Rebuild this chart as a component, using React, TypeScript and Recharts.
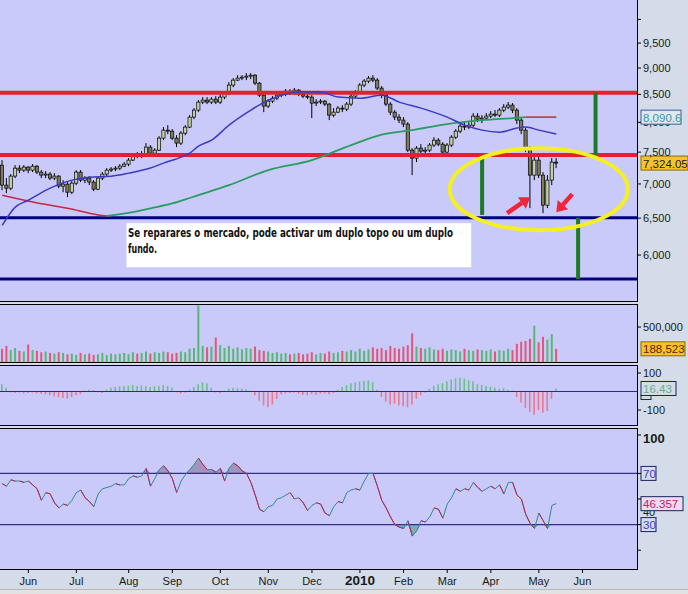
import React from 'react';
import { ComposedChart, Bar, Line, Area, XAxis, YAxis, ReferenceLine, ReferenceDot, ReferenceArea, Cell } from 'recharts';

// ---- price candles (2 trading days per slot) ----
const openP = [
  7291, 6982, 6936, 7120, 7244, 7213, 7260, 7213, 7275, 7182,
  7135, 7151, 7089, 7120, 6967, 6997, 6876, 7012, 7182, 7058,
  7089, 7028, 6921, 7089, 7151, 7213, 7229, 7244, 7275, 7307,
  7371, 7451, 7435, 7467, 7582, 7483, 7532, 7731, 7866, 7849,
  7731, 7648, 7815, 7918, 8091, 8215, 8359, 8395, 8359, 8413,
  8359, 8450, 8523, 8673, 8767, 8805, 8824, 8843, 8862, 8710,
  8486, 8287, 8377, 8431, 8486, 8505, 8560, 8523, 8579, 8505,
  8468, 8450, 8341, 8359, 8377, 8323, 8126, 8179, 8251, 8233,
  8323, 8468, 8542, 8673, 8748, 8805, 8767, 8617, 8486, 8323,
  8179, 8091, 8039, 7970, 7532, 7403, 7565, 7516, 7532, 7615,
  7697, 7631, 7500, 7615, 7747, 7849, 7935, 7918, 7952, 8109,
  8056, 8074, 8109, 8144, 8126, 8215, 8269, 8305, 8215, 8039,
  7866, 7565, 7135, 7371, 7135, 6685, 7058, 7339,
];
const closeP = [
  6982, 6936, 7120, 7244, 7213, 7260, 7213, 7275, 7182, 7135,
  7151, 7089, 7120, 6967, 6997, 6876, 7012, 7182, 7058, 7089,
  7028, 6921, 7089, 7151, 7213, 7229, 7244, 7275, 7307, 7371,
  7451, 7435, 7467, 7582, 7483, 7532, 7731, 7866, 7849, 7731,
  7648, 7815, 7918, 8091, 8215, 8359, 8395, 8359, 8413, 8359,
  8450, 8523, 8673, 8767, 8805, 8824, 8843, 8862, 8710, 8486,
  8287, 8377, 8431, 8486, 8505, 8560, 8523, 8579, 8505, 8468,
  8450, 8341, 8359, 8377, 8323, 8126, 8179, 8251, 8233, 8323,
  8468, 8542, 8673, 8748, 8805, 8767, 8617, 8486, 8323, 8179,
  8091, 8039, 7970, 7532, 7403, 7565, 7516, 7532, 7615, 7697,
  7631, 7500, 7615, 7747, 7849, 7935, 7918, 7952, 8109, 8056,
  8074, 8109, 8144, 8126, 8215, 8269, 8305, 8215, 8039, 7866,
  7565, 7135, 7371, 7135, 6685, 7058, 7339, 7324.05,
];
const highP = [
  7371, 7089, 7151, 7291, 7291, 7291, 7275, 7307, 7291, 7213,
  7197, 7182, 7166, 7135, 7058, 7028, 7043, 7213, 7213, 7120,
  7120, 7058, 7120, 7182, 7244, 7260, 7275, 7307, 7339, 7403,
  7483, 7500, 7516, 7648, 7615, 7565, 7764, 7918, 7952, 7883,
  7781, 7849, 7952, 8126, 8251, 8395, 8450, 8450, 8450, 8468,
  8505, 8560, 8729, 8805, 8862, 8862, 8901, 8901, 8881, 8729,
  8523, 8413, 8468, 8523, 8542, 8598, 8598, 8617, 8598, 8523,
  8505, 8486, 8413, 8413, 8395, 8341, 8251, 8287, 8305, 8359,
  8505, 8579, 8710, 8786, 8843, 8862, 8805, 8654, 8523, 8359,
  8215, 8144, 8091, 8004, 7565, 7598, 7631, 7582, 7648, 7747,
  7731, 7664, 7648, 7781, 7883, 7987, 8004, 8004, 8162, 8162,
  8126, 8162, 8197, 8215, 8251, 8323, 8359, 8341, 8251, 8074,
  7901, 7598, 7419, 7435, 7182, 7135, 7403, 7403,
];
const lowP = [
  6906, 6862, 6906, 7089, 7166, 7182, 7166, 7182, 7151, 7089,
  7089, 7058, 7058, 6936, 6876, 6802, 6847, 6982, 7028, 7012,
  6982, 6891, 6906, 7058, 7120, 7182, 7197, 7213, 7260, 7275,
  7355, 7403, 7403, 7435, 7451, 7435, 7516, 7697, 7798, 7697,
  7582, 7615, 7781, 7901, 8056, 8179, 8323, 8323, 8323, 8323,
  8323, 8413, 8486, 8635, 8748, 8767, 8767, 8786, 8673, 8450,
  8179, 8251, 8341, 8395, 8450, 8468, 8486, 8486, 8468, 8431,
  8413, 8074, 8287, 8323, 8287, 8039, 8091, 8162, 8179, 8197,
  8287, 8431, 8505, 8635, 8710, 8729, 8579, 8431, 8287, 8126,
  8039, 7987, 7918, 7500, 7135, 7339, 7467, 7467, 7500, 7582,
  7598, 7451, 7467, 7582, 7714, 7815, 7866, 7883, 7918, 8004,
  7987, 8039, 8074, 8091, 8091, 8179, 8233, 8162, 7970, 7798,
  7500, 6642, 7058, 7089, 6570, 6642, 6982, 7244,
];

// ---- volume (thousands) ----
const volumeK = [
  190, 230, 170, 200, 160, 150, 250, 170, 160, 140,
  150, 130, 120, 140, 130, 110, 120, 100, 130, 110,
  120, 100, 110, 130, 100, 120, 110, 120, 130, 110,
  140, 120, 130, 150, 120, 140, 130, 150, 140, 120,
  130, 150, 140, 190, 200, 810, 230, 210, 220, 350,
  240, 200, 230, 190, 210, 180, 200, 190, 220, 170,
  160, 150, 130, 140, 120, 130, 110, 120, 130, 110,
  120, 140, 110, 130, 120, 150, 130, 140, 160, 150,
  170, 150, 190, 160, 180, 210, 190, 200, 170, 230,
  200, 190, 220, 240, 410, 220, 200, 190, 210, 180,
  170, 190, 160, 180, 170, 150, 190, 170, 160, 180,
  170, 160, 180, 150, 170, 160, 190, 170, 260, 290,
  300, 330, 520, 280, 360, 320, 400, 188.523,
];

// ---- oscillator ----
const oscVals = [
  40, 20, -5, -8, -5, -10, -8, -5, -10, -12,
  -15, -20, -25, -30, -35, -38, -30, -20, -15, 5,
  10, 8, -5, -8, 10, 20, 25, 28, 30, 32,
  35, 30, 32, 30, 25, 28, 30, 35, 30, 20,
  -5, -12, -5, 10, 25, 40, 50, 45, 20, -5,
  -10, 5, 15, 20, 18, 15, 12, 5, -20, -50,
  -75, -85, -70, -40, -15, -10, -8, -5, -12, -18,
  -20, -15, -18, -12, -10, -15, -8, 10, 25, 35,
  45, 50, 55, 58, 60, 50, 10, -30, -55, -70,
  -65, -75, -80, -85, -70, -40, -20, -5, 15, 30,
  40, 45, 55, 65, 72, 75, 70, 60, 55, 40,
  35, 30, 25, 20, 15, 18, 10, 5, -30, -60,
  -90, -110, -125, -100, -115, -105, -40, 16.43,
];

// ---- RSI ----
const rsiVals = [
  62, 60, 65, 64, 64, 63, 64, 61, 58, 49,
  55, 54, 47, 43, 46, 45, 49, 55, 57, 51,
  48, 44, 54, 58, 59, 60, 62, 61, 61, 66,
  68, 67, 68, 74, 60, 66, 73, 76, 72, 66,
  55, 64, 69, 73, 77, 82, 77, 73, 73, 71,
  74, 64, 74, 78, 76, 72, 70, 63, 53, 42,
  40, 44, 45, 50, 51, 53, 55, 50, 51, 47,
  41, 45, 47, 46, 39, 37, 44, 48, 47, 55,
  57, 58, 57, 64, 70, 70, 60, 49, 43, 36,
  30, 28, 27, 33, 21, 25, 33, 32, 36, 43,
  42, 35, 46, 51, 58, 56, 58, 57, 63, 59,
  56, 58, 60, 58, 61, 54, 63, 63, 53, 50,
  38, 31, 27, 39, 33, 27, 45, 46.357,
];

// ---- moving averages: [slot, value] ----
const maBluePts = [
  [0, 6400], [3, 6657], [6, 6757], [11, 6936], [16, 7058], [20, 7103], [25, 7119], [29, 7166],
  [34, 7245], [37, 7323], [41, 7419], [43, 7483], [45, 7598], [48, 7697], [52, 7952], [57, 8215],
  [61, 8395], [66, 8523], [68, 8542], [73, 8542], [77, 8450], [82, 8431], [87, 8486], [91, 8359],
  [96, 8251], [102, 8091], [106, 7952], [110, 7866], [114, 7832], [118, 7901], [120, 7918],
  [123, 7866], [127, 7800],
];
const maRedPts = [[0, 6830], [7, 6730], [15, 6640], [22, 6545], [24, 6530]];
const maGreenPts = [
  [24, 6530], [30, 6585], [34, 6640], [39, 6710], [43, 6790], [45, 6832], [52, 6982], [61, 7213],
  [71, 7371], [80, 7615], [87, 7790], [94, 7866], [102, 7970], [109, 8030], [117, 8074], [120, 8091],
];
const maEndPts = [[120, 8091], [127, 8090.6]];

// ---- axis labels ----
const monthSlots = [6, 17, 29, 39, 50, 61, 71, 82, 92, 102, 112, 123, 133];
const monthLabels = ['Jun', 'Jul', 'Aug', 'Sep', 'Oct', 'Nov', 'Dec', '2010', 'Feb', 'Mar', 'Apr', 'May', 'Jun'];
const priceTicks = [5500, 6000, 6500, 7000, 7500, 8000, 8500, 9000, 9500, 10000];
const priceHiddenUnderBox = 8000;
const volumeTicks = [500];
const oscTicks = [-100, 100];
const rsiTicks = [0, 10, 20, 30, 40, 50, 60, 70, 80, 90, 100];
const rsiLabelled = [0, 20, 60, 80, 100];
const rsiHiddenUnderBox = 40;

// ---- annotation levels ----
const resistance = [8530, 7455];
const support = [6505, 5695];
const noteLines = ['Se reparares o mercado, pode activar um duplo topo ou um duplo', 'fundo.'];

const TOTAL_SLOTS = 146;
const FONT = "'Liberation Sans', Arial, sans-serif";
const PLOT_BG = '#cacafa';
const AXIS_BG = '#d3dce8';

const data: any[] = [];
for (let i = 0; i < TOTAL_SLOTS; i++) {
  const row: any = { i };
  if (i < closeP.length) {
    row.o = openP[i];
    row.h = highP[i];
    row.l = lowP[i];
    row.c = closeP[i];
    row.range = [lowP[i], highP[i]];
    row.vol = volumeK[i];
    row.osc = oscVals[i];
    row.rsi = rsiVals[i];
  }
  data.push(row);
}
maBluePts.forEach(([s, v]) => (data[s].maBlue = v));
maRedPts.forEach(([s, v]) => (data[s].maRed = v));
maGreenPts.forEach(([s, v]) => (data[s].maGreen = v));
maEndPts.forEach(([s, v]) => (data[s].maEnd = v));
{
  let run = 0;
  let inDown = false;
  for (let i = 1; i < rsiVals.length; i++) {
    if (rsiVals[i] < rsiVals[i - 1]) {
      if (!inDown) {
        run++;
        inDown = true;
      }
      const key = run % 2 ? 'rsiDnA' : 'rsiDnB';
      data[i - 1][key] = rsiVals[i - 1];
      data[i][key] = rsiVals[i];
    } else inDown = false;
  }
}

const noDot = (p: any) => <g key={p && p.key} />;

const Candle = (props: any) => {
  const { x, y, width, height, payload } = props;
  if (!payload || payload.c == null) return null;
  const top = Math.min(y, y + height);
  const hh = Math.abs(height);
  const lh = Math.log(payload.h);
  const ll = Math.log(payload.l);
  const py = (v: number) => (lh === ll ? top : top + (hh * (lh - Math.log(v))) / (lh - ll));
  const cx = x + width / 2;
  const yo = py(payload.o);
  const yc = py(payload.c);
  const bt = Math.min(yo, yc);
  const bh = Math.max(1, Math.abs(yo - yc));
  const up = payload.c >= payload.o;
  return (
    <g>
      <line x1={cx} x2={cx} y1={top} y2={top + hh} stroke="#000" strokeWidth={1} />
      <rect x={cx - 1.6} y={bt} width={3.2} height={bh} fill={up ? '#c2d2a6' : '#7f7a5a'} stroke="#000" strokeWidth={0.7} />
    </g>
  );
};

const ValueBox = (props: any) => {
  const { viewBox, text, w, fill, stroke, color, tail } = props;
  if (!viewBox) return null;
  const x = viewBox.x + viewBox.width + 4;
  const y = viewBox.y;
  return (
    <g>
      {tail ? <rect x={x} y={y + 7} width={10} height={4} fill="none" stroke={stroke} strokeWidth={1} /> : null}
      <rect x={x} y={y - 7} width={w} height={14} fill={fill} stroke={stroke} strokeWidth={1} />
      <text x={x + 2} y={y + 4.5} fontSize={11.5} fill={color} fontFamily={FONT}>
        {text}
      </text>
    </g>
  );
};

// axis label that sits under a value box (drawn before the box so the box covers it)
const AxisText = (props: any) => {
  const { viewBox, text, size } = props;
  if (!viewBox) return null;
  return (
    <text x={viewBox.x + viewBox.width + 6} y={viewBox.y} dy="0.36em" fontSize={size || 11} fill="#1a1a1a" fontFamily={FONT}>
      {text}
    </text>
  );
};

const Arrow = (props: any) => {
  const { cx, cy, dx, dy } = props;
  if (cx == null) return null;
  const len = Math.hypot(dx, dy);
  const ux = dx / len;
  const uy = dy / len;
  const bx = cx - ux * 10;
  const by = cy - uy * 10;
  const nx = -uy;
  const ny = ux;
  return (
    <g>
      <line x1={cx - dx} y1={cy - dy} x2={bx} y2={by} stroke="#f0243a" strokeWidth={4.5} />
      <polygon points={`${cx},${cy} ${bx + nx * 7},${by + ny * 7} ${bx - nx * 7},${by - ny * 7}`} fill="#f0243a" />
    </g>
  );
};

const NoteBox = (p: any) => (
  <g>
    <rect x={p.x} y={p.y} width={p.width} height={p.height} fill="#ffffff" />
    <text x={p.x + 1.5} y={p.y + 14} fontSize={13} fontWeight="bold" fill="#111" fontFamily="'DejaVu Sans Condensed', 'DejaVu Sans', sans-serif" textLength={325} lengthAdjust="spacingAndGlyphs">
      {noteLines[0]}
    </text>
    <text x={p.x + 1.5} y={p.y + 30} fontSize={13} fontWeight="bold" fill="#111" fontFamily="'DejaVu Sans Condensed', 'DejaVu Sans', sans-serif" textLength={29} lengthAdjust="spacingAndGlyphs">
      {noteLines[1]}
    </text>
  </g>
);

const MonthTick = (props: any) => {
  const { x, y, payload } = props;
  const k = monthSlots.indexOf(payload.value);
  if (k < 0) return null;
  const bold = monthLabels[k] === '2010';
  return (
    <g>
      <line x1={x} x2={x} y1={y} y2={y + 4} stroke="#000" />
      <text x={x} y={y + 16} textAnchor="middle" fontSize={bold ? 13.5 : 11} fontWeight={bold ? 'bold' : 'normal'} fill="#1a1a1a" fontFamily={FONT}>
        {monthLabels[k]}
      </text>
    </g>
  );
};

const RsiTick = (props: any) => {
  const { x, y, payload } = props;
  const v = payload.value;
  if (rsiLabelled.indexOf(v) < 0) return null;
  const bold = v === 0 || v === 100;
  return (
    <text x={x} y={y} dy="0.36em" fontSize={bold ? 13 : 11} fontWeight={bold ? 'bold' : 'normal'} fill="#1a1a1a" fontFamily={FONT}>
      {v}
    </text>
  );
};

const tickStyle = { fontSize: 11, fill: '#1a1a1a', fontFamily: FONT };
const margin = { top: 0, right: 0, bottom: 0, left: 0 };

const panel = (top: number, height: number): React.CSSProperties => ({
  position: 'absolute',
  left: 0,
  top,
  width: 638,
  height,
  boxSizing: 'border-box',
  background: PLOT_BG,
  borderTop: '1px solid #000',
  borderBottom: '1px solid #000',
  borderRight: '1px solid #000',
});
const chartPos = (top: number): React.CSSProperties => ({ position: 'absolute', left: 0, top });

export default function App() {
  return (
    <div style={{ position: 'absolute', left: 0, top: 0, width: 688, height: 594, background: AXIS_BG, overflow: 'hidden', fontFamily: FONT }}>
      <div style={panel(-1, 303)} />
      <div style={panel(304, 59)} />
      <div style={panel(365, 61)} />
      <div style={panel(428, 142)} />
      <div style={{ position: 'absolute', left: 0, top: 589, width: 688, height: 5, background: '#e2e2e2', borderTop: '1px solid #b8b8b8' }} />

      {/* price panel */}
      <div style={chartPos(0)}>
        <ComposedChart width={688} height={301} data={data} margin={margin} barCategoryGap={0}>
          <XAxis dataKey="i" type="category" scale="band" hide />
          <YAxis
            orientation="right"
            width={51}
            scale="log"
            domain={[5431, 10430]}
            allowDataOverflow
            ticks={priceTicks}
            tickFormatter={(v: number) => (v === 10000 || v === priceHiddenUnderBox ? '' : v.toLocaleString('en-US'))}
            tick={tickStyle}
            tickSize={4}
            tickMargin={2}
            axisLine={false}
            tickLine={{ stroke: '#000' }}
          />
          {resistance.map((v) => (
            <ReferenceLine key={'r' + v} y={v} stroke="#e4202e" strokeWidth={4} />
          ))}
          {support.map((v) => (
            <ReferenceLine key={'s' + v} y={v} stroke="#000082" strokeWidth={3} />
          ))}
          <ReferenceLine segment={[{ x: 110, y: resistance[1] }, { x: 110, y: support[0] + 40 }]} stroke="#1c7a26" strokeWidth={4} />
          <ReferenceLine segment={[{ x: 136, y: resistance[0] }, { x: 136, y: resistance[1] }]} stroke="#1c7a26" strokeWidth={4} />
          <ReferenceLine segment={[{ x: 132, y: support[0] }, { x: 132, y: support[1] }]} stroke="#1c7a26" strokeWidth={4} />
          <ReferenceArea x1={29} x2={107} y1={5843} y2={6430} shape={(p: any) => <NoteBox {...p} />} />
          <Bar dataKey="range" barSize={4} isAnimationActive={false} shape={(p: any) => <Candle {...p} />} />
          <Line dataKey="maRed" type="monotone" connectNulls stroke="#c8283e" strokeWidth={1.6} dot={noDot} activeDot={false} isAnimationActive={false} />
          <Line dataKey="maGreen" type="monotone" connectNulls stroke="#2a9c62" strokeWidth={1.8} dot={noDot} activeDot={false} isAnimationActive={false} />
          <Line dataKey="maEnd" type="linear" connectNulls stroke="#b04a4a" strokeWidth={1.8} dot={noDot} activeDot={false} isAnimationActive={false} />
          <Line dataKey="maBlue" type="monotone" connectNulls stroke="#3a3ac4" strokeWidth={1.5} dot={noDot} activeDot={false} isAnimationActive={false} />
          <ReferenceDot x={123} y={6920} r={1} shape={(p: any) => <ellipse cx={p.cx} cy={p.cy} rx={89} ry={41} fill="none" stroke="#f6f020" strokeWidth={4} />} />
          <ReferenceDot x={121} y={6802} r={1} shape={(p: any) => <Arrow cx={p.cx} cy={p.cy} dx={23} dy={-16} />} />
          <ReferenceDot x={127} y={6585} r={1} shape={(p: any) => <Arrow cx={p.cx} cy={p.cy} dx={-16} dy={18} />} />
          <ReferenceLine y={priceHiddenUnderBox} strokeOpacity={0} label={<AxisText text="8,000" />} />
          <ReferenceLine y={8090.6} strokeOpacity={0} label={<ValueBox text="8,090.6" w={40} fill="#dfe8f2" stroke="#3c5c9c" color="#3a9a9a" />} />
          <ReferenceLine y={7324.05} strokeOpacity={0} label={<ValueBox text="7,324.05" w={47} fill="#f8c22c" stroke="#8a6a10" color="#222" />} />
        </ComposedChart>
      </div>

      {/* volume panel */}
      <div style={chartPos(305)}>
        <ComposedChart width={688} height={57} data={data} margin={margin} barCategoryGap={0}>
          <XAxis dataKey="i" type="category" scale="band" hide />
          <YAxis
            orientation="right"
            width={51}
            domain={[0, 815]}
            allowDataOverflow
            ticks={volumeTicks}
            tickFormatter={(v: number) => (v * 1000).toLocaleString('en-US')}
            tick={tickStyle}
            tickSize={4}
            tickMargin={2}
            axisLine={false}
            tickLine={{ stroke: '#000' }}
          />
          <Bar dataKey="vol" barSize={2} isAnimationActive={false}>
            {data.map((d, k) => (
              <Cell key={k} fill={d.c >= d.o ? '#56b872' : '#e25676'} />
            ))}
          </Bar>
          <ReferenceLine y={188.523} strokeOpacity={0} label={<ValueBox text="188,523" w={44} fill="#f8c22c" stroke="#8a6a10" color="#5a1e00" />} />
        </ComposedChart>
      </div>

      {/* oscillator panel */}
      <div style={chartPos(366)}>
        <ComposedChart width={688} height={59} data={data} margin={margin} barCategoryGap={0}>
          <XAxis dataKey="i" type="category" scale="band" hide />
          <YAxis
            orientation="right"
            width={51}
            domain={[-181, 138]}
            allowDataOverflow
            ticks={oscTicks}
            tick={tickStyle}
            tickSize={4}
            tickMargin={2}
            axisLine={false}
            tickLine={{ stroke: '#000' }}
          />
          <Bar dataKey="osc" barSize={1.6} isAnimationActive={false}>
            {data.map((d, k) => (
              <Cell key={k} fill={d.osc >= 0 ? '#6cc08a' : '#ec7890'} />
            ))}
          </Bar>
          <ReferenceLine y={0} stroke="#2c2c84" strokeWidth={1.2} />
          <ReferenceLine y={16.43} strokeOpacity={0} label={<ValueBox text="16.43" w={35} fill="#d3dce8" stroke="#202060" color="#6aae8a" tail />} />
        </ComposedChart>
      </div>

      {/* RSI panel */}
      <div style={chartPos(429)}>
        <ComposedChart width={688} height={165} data={data} margin={margin}>
          <XAxis dataKey="i" type="category" scale="band" interval={0} height={25} tickSize={0} tickMargin={0} tickLine={false} axisLine={false} tick={<MonthTick />} />
          <YAxis
            orientation="right"
            width={51}
            domain={[-4.7, 104.7]}
            allowDataOverflow
            ticks={rsiTicks}
            tick={<RsiTick />}
            tickSize={4}
            tickMargin={2}
            axisLine={false}
            tickLine={{ stroke: '#000' }}
          />
          <Area dataKey={(d: any) => (d.rsi == null ? null : [70, Math.max(70, d.rsi)])} stroke="none" fill="#a08cb8" fillOpacity={0.9} isAnimationActive={false} />
          <Area dataKey={(d: any) => (d.rsi == null ? null : [Math.min(30, d.rsi), 30])} stroke="none" fill="#78a8a8" fillOpacity={0.9} isAnimationActive={false} />
          <ReferenceLine y={70} stroke="#303088" strokeWidth={1.2} label={<ValueBox text="70" w={15} fill="#d3dce8" stroke="#202060" color="#3c3cc8" />} />
          <ReferenceLine y={30} stroke="#303088" strokeWidth={1.2} label={<ValueBox text="30" w={15} fill="#d3dce8" stroke="#202060" color="#3c3cc8" />} />
          <Line dataKey="rsi" type="linear" stroke="#2c8c8c" strokeWidth={1} dot={false} activeDot={false} isAnimationActive={false} />
          <Line dataKey="rsiDnA" type="linear" stroke="#c4204e" strokeWidth={1} dot={false} activeDot={false} isAnimationActive={false} />
          <Line dataKey="rsiDnB" type="linear" stroke="#c4204e" strokeWidth={1} dot={false} activeDot={false} isAnimationActive={false} />
          <ReferenceLine y={rsiHiddenUnderBox} strokeOpacity={0} label={<AxisText text="40" />} />
          <ReferenceLine y={46.357} strokeOpacity={0} label={<ValueBox text="46.357" w={42} fill="#ecdcf2" stroke="#202060" color="#c42060" />} />
        </ComposedChart>
      </div>
    </div>
  );
}
